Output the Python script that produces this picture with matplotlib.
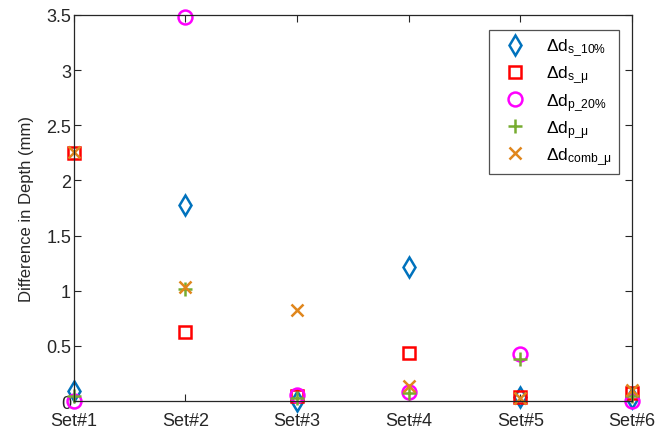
import matplotlib
matplotlib.use("Agg")
import matplotlib.pyplot as plt

plt.rcParams["font.family"] = ["Liberation Sans", "DejaVu Sans"]
plt.rcParams["mathtext.fontset"] = "custom"
plt.rcParams["mathtext.rm"] = "Liberation Sans"
plt.rcParams["mathtext.it"] = "Liberation Sans:italic"

sets = ["Set#1", "Set#2", "Set#3", "Set#4", "Set#5", "Set#6"]
x = [1, 2, 3, 4, 5, 6]

# difference in depth (mm) per data set
d_s_10 = [0.09, 1.78, 0.00, 1.22, 0.04, 0.03]
d_s_mu = [2.25, 0.63, 0.05, 0.44, 0.04, 0.07]
d_p_20 = [0.00, 3.48, 0.06, 0.08, 0.43, 0.00]
d_p_mu = [0.045, 1.02, 0.03, 0.07, 0.38, 0.05]
d_comb_mu = [2.26, 1.03, 0.83, 0.14, 0.03, 0.10]

series = [
    (d_s_10, "d", "#0072BD", r"$\mathrm{\Delta d}_{\mathrm{s\_10\%}}$", 10),
    (d_s_mu, "s", "#FF0000", r"$\mathrm{\Delta d}_{\mathrm{s\_\mu}}$", 8),
    (d_p_20, "o", "#FF00FF", r"$\mathrm{\Delta d}_{\mathrm{p\_20\%}}$", 10),
    (d_p_mu, "+", "#77AC30", r"$\mathrm{\Delta d}_{\mathrm{p\_\mu}}$", 10),
    (d_comb_mu, "x", "#E0861C", r"$\mathrm{\Delta d}_{\mathrm{comb\_\mu}}$", 9),
]

fig = plt.figure(figsize=(6.71, 4.31), dpi=100)
ax = fig.add_axes([0.110, 0.067, 0.832, 0.896])

for vals, mk, col, lab, ms in series:
    if mk in ("+", "x"):
        ax.plot(x, vals, linestyle="none", marker=mk, ms=ms, mew=1.8,
                color=col, label=lab, clip_on=False)
    else:
        ax.plot(x, vals, linestyle="none", marker=mk, ms=ms, mew=1.8,
                mfc="none", mec=col, label=lab, clip_on=False)

ax.set_xlim(1, 6)
ax.set_ylim(0, 3.5)
ax.set_xticks(x)
ax.set_xticklabels(sets)
ax.set_yticks([0, 0.5, 1, 1.5, 2, 2.5, 3, 3.5])
ax.set_yticklabels(["0", "0.5", "1", "1.5", "2", "2.5", "3", "3.5"])
ax.set_ylabel("Difference in Depth (mm)", fontsize=12, color="#262626",
              labelpad=9)
ax.tick_params(direction="in", top=True, right=True, length=5, width=0.8,
               labelsize=13, colors="#262626")
ax.tick_params(axis="x", pad=7.5)
ax.tick_params(axis="y", pad=2)
for sp in ax.spines.values():
    sp.set_color("#262626")
    sp.set_linewidth(0.9)

leg = ax.legend(loc="upper right", bbox_to_anchor=(0.977, 0.962),
                fontsize=12.5, frameon=True, fancybox=False,
                edgecolor="#262626", borderpad=0.4, labelspacing=0.3,
                handlelength=2.2, handletextpad=0.7, borderaxespad=0)
leg.get_frame().set_linewidth(0.9)

fig.savefig("out.png", dpi=100)
